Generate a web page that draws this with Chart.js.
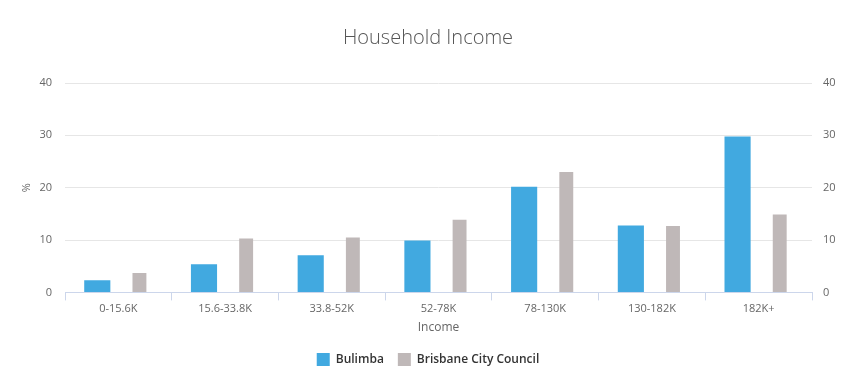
<!DOCTYPE html>
<html>
<head>
<meta charset="utf-8">
<script src="https://cdn.jsdelivr.net/npm/chart.js@4/dist/chart.umd.min.js"></script>
<style>
  html, body { margin: 0; padding: 0; background: #fff; }
  #wrap { width: 854px; height: 384px; }
</style>
</head>
<body>
<div id="wrap"><canvas id="incomeChart" width="854" height="384"></canvas></div>
<script>
// === Données ===
const categories = ['0-15.6K', '15.6-33.8K', '33.8-52K', '52-78K', '78-130K', '130-182K', '182K+'];
const bulimba = [2.3, 5.4, 7.1, 9.9, 20.2, 12.8, 29.8];
const brisbane = [3.7, 10.3, 10.5, 13.9, 23.0, 12.7, 14.9];
const yTicks = [0, 10, 20, 30, 40];

const FONT = '"Open Sans", sans-serif';
const tickFont = { family: FONT, size: 11 };

const ctx = document.getElementById('incomeChart').getContext('2d');

const chart = new Chart(ctx, {
  type: 'bar',
  data: {
    labels: categories,
    datasets: [{
      label: 'Bulimba',
      data: bulimba,
      backgroundColor: '#41a9e0',
      categoryPercentage: 0.79,
      barPercentage: 0.62,
      yAxisID: 'y'
    }, {
      label: 'Brisbane City Council',
      data: brisbane,
      backgroundColor: '#bfb8b8',
      categoryPercentage: 0.79,
      barPercentage: 0.33,
      yAxisID: 'y'
    }]
  },
  options: {
    responsive: false,
    animation: false,
    layout: { padding: { left: 20, right: 18, top: 0, bottom: 8 } },
    scales: {
      x: {
        grid: { display: true, drawOnChartArea: false, offset: true, color: '#ccd6eb', tickLength: 8 },
        border: { color: '#ccd6eb' },
        ticks: { color: '#666', font: tickFont, padding: 2 },
        title: { display: true, text: 'Income', color: '#666', font: { family: FONT, size: 12 }, padding: { top: 3 } }
      },
      y: {
        position: 'left',
        min: 0, max: 40,
        afterBuildTicks: axis => { axis.ticks = yTicks.map(v => ({ value: v })); },
        afterFit: axis => { axis.width = 45; },
        grid: { color: '#e6e6e6', drawTicks: false },
        border: { display: false },
        ticks: { color: '#666', font: tickFont, padding: 13 },
        title: { display: true, text: '%', color: '#666', font: { family: FONT, size: 11 }, padding: 0 }
      },
      y2: {
        position: 'right',
        min: 0, max: 40,
        afterBuildTicks: axis => { axis.ticks = yTicks.map(v => ({ value: v })); },
        afterFit: axis => { axis.width = 24; },
        grid: { display: false, drawTicks: false },
        border: { display: false },
        ticks: { color: '#666', font: tickFont, padding: 11 }
      }
    },
    plugins: {
      title: {
        display: true,
        text: 'Household Income',
        color: '#555',
        font: { family: FONT, size: 20, weight: '300' },
        padding: { top: 26, bottom: 33 }
      },
      legend: {
        position: 'bottom',
        labels: {
          color: '#333',
          boxWidth: 13, boxHeight: 13,
          padding: 14,
          font: { family: FONT, size: 12, weight: '600' }
        }
      },
      tooltip: { enabled: false }
    }
  }
});
</script>
</body>
</html>
